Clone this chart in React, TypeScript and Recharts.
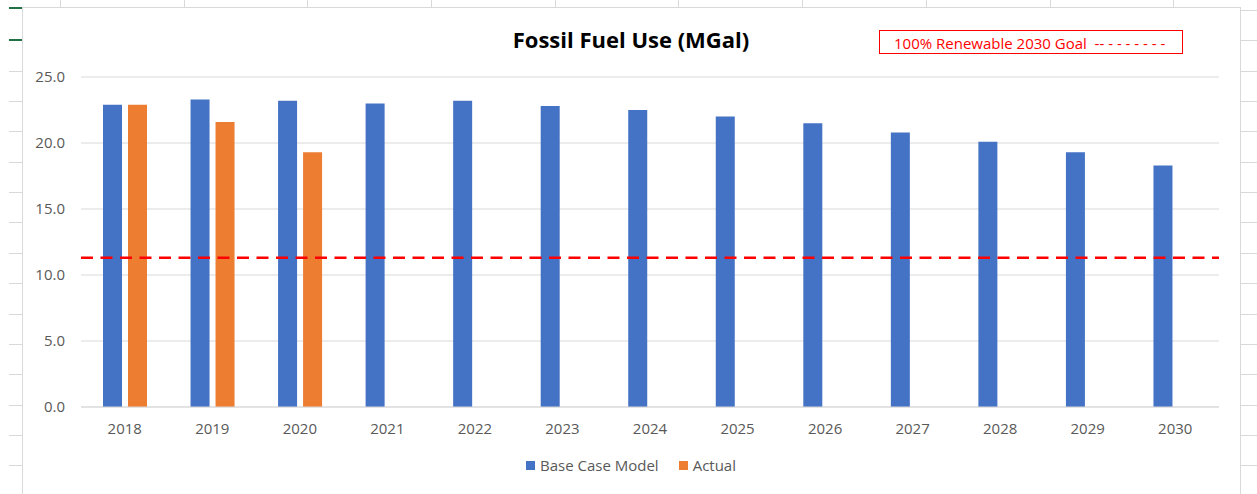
import React from "react";
import { Bar, BarChart, CartesianGrid, Legend, ReferenceLine, XAxis, YAxis } from "recharts";

// chart values
const years = ["2018", "2019", "2020", "2021", "2022", "2023", "2024", "2025", "2026", "2027", "2028", "2029", "2030"];
const baseCase = [22.9, 23.3, 23.2, 23.0, 23.2, 22.8, 22.5, 22.0, 21.5, 20.8, 20.1, 19.3, 18.3];
const actual = [22.9, 21.6, 19.3, null, null, null, null, null, null, null, null, null, null];
const goal = 11.3;
const yTicks = [0, 5, 10, 15, 20, 25];

const data = years.map((year, i) => ({ year, base: baseCase[i], actual: actual[i] }));

const BLUE = "#4472C4";
const ORANGE = "#ED7D31";
const GRID = "#d9d9d9";
const TEXT = "#595959";
const FONT = "'Open Sans', sans-serif";

// spreadsheet row lines around the chart object
const rowLines: number[] = [];
for (let y = 10; y < 494; y += 30.35) rowLines.push(Math.round(y));
const colLines = [60, 184, 307, 431, 555, 678, 802, 926, 1050, 1173];

function LegendContent() {
  const items = [
    { label: "Base Case Model", color: BLUE },
    { label: "Actual", color: ORANGE },
  ];
  return (
    <div style={{ display: "flex", justifyContent: "center", gap: 20, fontFamily: FONT, fontSize: 15, color: TEXT }}>
      {items.map((it) => (
        <div key={it.label} style={{ display: "flex", alignItems: "center" }}>
          <span style={{ width: 9, height: 9, background: it.color, marginRight: 5, display: "inline-block" }} />
          <span>{it.label}</span>
        </div>
      ))}
    </div>
  );
}

export default function App() {
  return (
    <div style={{ position: "absolute", left: 0, top: 0, width: 1257, height: 494, overflow: "hidden", background: "#fff", fontFamily: FONT }}>
      {colLines.map((x) => (
        <div key={"c" + x} style={{ position: "absolute", left: x, top: 0, width: 1, height: 7, background: GRID }} />
      ))}
      {rowLines.map((y) => (
        <React.Fragment key={"r" + y}>
          {y > 60 && <div style={{ position: "absolute", left: 9, top: y, width: 13, height: 1, background: GRID }} />}
          <div style={{ position: "absolute", left: 1241, top: y, width: 16, height: 1, background: GRID }} />
        </React.Fragment>
      ))}
      <div style={{ position: "absolute", left: 9, top: 7, width: 13, height: 2, background: "#217346" }} />
      <div style={{ position: "absolute", left: 9, top: 39, width: 13, height: 2, background: "#217346" }} />

      {/* chart object frame */}
      <div style={{ position: "absolute", left: 22, top: 7, width: 1217, height: 500, border: `1px solid ${GRID}`, background: "#fff" }} />

      <div style={{ position: "absolute", left: 0, top: 24, width: 1262, textAlign: "center", fontSize: 22, fontWeight: 700, lineHeight: "30px", color: "#000" }}>
        Fossil Fuel Use (MGal)
      </div>

      <div
        style={{
          position: "absolute",
          left: 879,
          top: 30,
          width: 304,
          height: 24,
          boxSizing: "border-box",
          border: "1px solid #ff0000",
          color: "#ff0000",
          fontSize: 15,
          lineHeight: "22px",
          paddingLeft: 14,
          paddingTop: 1,
          whiteSpace: "pre",
        }}
      >
        {"100% Renewable 2030 Goal  -- - - - - - - -"}
      </div>

      <div style={{ position: "absolute", left: 0, top: 0 }}>
        <BarChart width={1257} height={494} data={data} barSize={19} barGap={6} margin={{ top: 77, right: 38, bottom: 57, left: 31 }}>
          <CartesianGrid stroke={GRID} vertical={false} />
          <XAxis
            dataKey="year"
            height={30}
            axisLine={{ stroke: GRID }}
            tickLine={false}
            tickMargin={10}
            tick={{ fill: TEXT, fontSize: 15 }}
          />
          <YAxis
            width={50}
            domain={[0, 25]}
            ticks={yTicks}
            tickFormatter={(v: number) => v.toFixed(1)}
            axisLine={false}
            tickLine={false}
            tickMargin={10}
            tick={{ fill: TEXT, fontSize: 15 }}
          />
          <Bar dataKey="base" name="Base Case Model" fill={BLUE} isAnimationActive={false} />
          <Bar dataKey="actual" name="Actual" fill={ORANGE} isAnimationActive={false} />
          <ReferenceLine y={goal} stroke="#ff0000" strokeWidth={2.5} strokeDasharray="12 7.5" />
          <Legend
            layout="horizontal"
            verticalAlign="middle"
            align="center"
            content={<LegendContent />}
            wrapperStyle={{ left: 22, top: 455, width: 1218 }}
          />
        </BarChart>
      </div>
    </div>
  );
}
